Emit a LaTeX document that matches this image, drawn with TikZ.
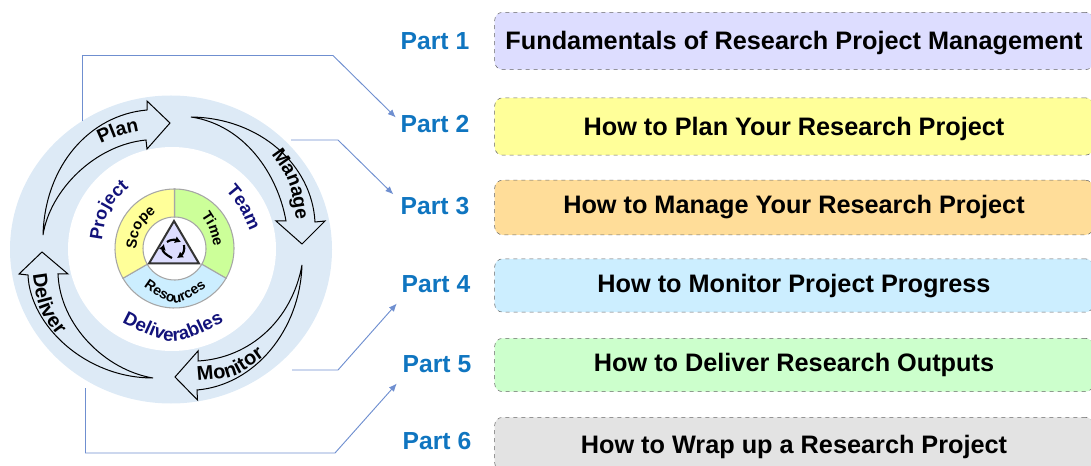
\documentclass[tikz,border=0pt]{standalone}
\usepackage{fontspec}
\setmainfont{Liberation Sans}
\usepackage{tikz}
\usetikzlibrary{decorations.text, arrows.meta}

\definecolor{ringblue}{HTML}{DDEAF6}
\definecolor{linkblue}{HTML}{6F8FD0}
\definecolor{partblue}{HTML}{0F75C0}
\definecolor{wordnavy}{HTML}{12127A}
\definecolor{lilac}{HTML}{DDDDFF}
\definecolor{lemon}{HTML}{FFFF99}
\definecolor{peach}{HTML}{FFDD99}
\definecolor{sky}{HTML}{CCEEFF}
\definecolor{mint}{HTML}{CCFFCC}
\definecolor{lime}{HTML}{CCFF99}
\definecolor{ash}{HTML}{E3E3E3}

\tikzset{curved/.style n args={2}{decorate, decoration={text along path, text align=center, text={|#1|#2}}}}

\begin{document}
\begin{tikzpicture}[x=0.75pt, y=-0.75pt]
\tikzstyle{partlabel}=[text=partblue, font=\fontsize{18.5}{22}\selectfont\bfseries, inner sep=2pt]
\tikzstyle{topicbox}=[draw=black!60, dashed, rounded corners=6pt, minimum width=449pt, inner sep=0pt,
font=\fontsize{18.95}{22}\selectfont\bfseries]
\tikzstyle{link}=[draw=linkblue, line width=0.7pt]
\tikzstyle{stagearrow}=[draw=black, fill=ringblue, line width=0.75pt, line join=miter]
\tikzstyle{sector}=[draw=black!35, line width=0.8pt]
\tikzstyle{spin}=[-{Latex[length=4.5pt, width=5.5pt]}, line width=1.6pt]

\useasboundingbox (0,0) rectangle (1091,466);

% ring
\fill[ringblue] (171,249.5) ellipse [x radius=161, y radius=154];
\fill[white] (172,249) ellipse [x radius=104, y radius=102];

% stage arrows
\draw[stagearrow] (43,235) .. controls (45,165) and (90,115) .. (147,110) -- (147,101) -- (170,123)
  -- (147,149) -- (146,140) .. controls (95,145) and (50,190) .. (43,235) -- cycle;
\draw[stagearrow] (191,117) .. controls (260,118) and (312,165) .. (315,222) -- (325,221) -- (302,244)
  -- (276,221) -- (286,221) .. controls (278,175) and (245,125) .. (191,117) -- cycle;
\draw[stagearrow] (302,265) .. controls (300,330) and (255,385) .. (197,390) -- (197.5,400) -- (175,377)
  -- (198,351) -- (198,361) .. controls (250,358) and (292,320) .. (302,265) -- cycle;
\draw[stagearrow] (153,378) .. controls (85,378) and (30,325) .. (28,275) -- (19,274) -- (42,252)
  -- (68,274) -- (58,274) .. controls (60,325) and (105,370) .. (153,378) -- cycle;

% wheel
\begin{scope}[shift={(174.5,248.5)}]
\draw[sector, fill=lime] (-90:59.5) arc[start angle=-90, end angle=30, radius=59.5]
  -- (30:31.5) arc[start angle=30, end angle=-90, radius=31.5] -- cycle;
\draw[sector, fill=sky] (30:59.5) arc[start angle=30, end angle=150, radius=59.5]
  -- (150:31.5) arc[start angle=150, end angle=30, radius=31.5] -- cycle;
\draw[sector, fill=lemon] (150:59.5) arc[start angle=150, end angle=270, radius=59.5]
  -- (270:31.5) arc[start angle=270, end angle=150, radius=31.5] -- cycle;
\end{scope}

% triangle
\draw[fill=lilac, draw=black!80, line width=1.5pt, line join=miter] (174,221) -- (199,263.5) -- (149,263.5) -- cycle;
\draw[spin] (167,242) .. controls (170,239.5) and (175,239.5) .. (181,242);
\draw[spin] (184,245) .. controls (185,250) and (183,254) .. (177,258);
\draw[spin] (172,258) .. controls (166,255) and (162,251) .. (164,244);

% curved words
\path[curved={\fontsize{14.5}{17}\selectfont\bfseries}{Plan}] (100,144) .. controls (120,135) .. (140,131);
\path[curved={\fontsize{14.5}{17}\selectfont\bfseries}{Manage}] (272,155) .. controls (290,180) .. (296,219);
\path[curved={\fontsize{15}{18}\selectfont\bfseries}{Monitor}] (197,381) .. controls (235,378) .. (265,356);
\path[curved={\fontsize{15}{18}\selectfont\bfseries}{Deliver}] (33,275) .. controls (38,310) .. (57,335);
\path[curved={\fontsize{13.5}{16}\selectfont\bfseries\color{wordnavy}}{Project}] (102,240) .. controls (107,208) .. (129,188);
\path[curved={\fontsize{13.5}{16}\selectfont\bfseries\color{wordnavy}}{Team}] (226,191) .. controls (240,208) .. (250,231);
\path[curved={\fontsize{14}{16}\selectfont\bfseries\color{wordnavy}}{Deliverables}] (120,321) .. controls (173,348) .. (226,321);
\path[curved={\fontsize{11}{13}\selectfont\bfseries}{Scope}] (136,248) .. controls (140,226) .. (155,213);
\path[curved={\fontsize{11}{13}\selectfont\bfseries}{Time}] (201,215) .. controls (210,229) .. (214,247);
\path[curved={\fontsize{10.5}{13}\selectfont\bfseries}{Resources}] (140,284) .. controls (175,309) .. (210,284);

% parts
\node (part1) at (435,41) [partlabel] {Part 1};
\node (part2) at (435,124) [partlabel] {Part 2};
\node (part3) at (435,206) [partlabel] {Part 3};
\node (part4) at (436,284) [partlabel] {Part 4};
\node (part5) at (437,364) [partlabel] {Part 5};
\node (part6) at (437,441) [partlabel] {Part 6};

% boxes
\node (box1) at (794,41) [topicbox, fill=lilac, minimum height=43pt, text height=16.6pt] {Fundamentals of Research Project Management};
\node (box2) at (794,126.5) [topicbox, fill=lemon, minimum height=43pt, text height=18pt] {How to Plan Your Research Project};
\node (box3) at (794,207.5) [topicbox, fill=peach, minimum height=41pt] {How to Manage Your Research Project};
\node (box4) at (794,285.5) [topicbox, fill=sky, minimum height=40pt, text height=15.1pt] {How to Monitor Project Progress};
\node (box5) at (794,365) [topicbox, fill=mint, minimum height=40pt] {How to Deliver Research Outputs};
\node (box6) at (794,444) [topicbox, fill=ash, minimum height=40pt, text height=18pt] {How to Wrap up a Research Project};

% connections
\coordinate (plan1) at (82.5,121);
\coordinate (plan2) at (82.5,55.5);
\coordinate (plan3) at (333,55.5);
\coordinate (manage1) at (291,140);
\coordinate (manage2) at (338,140);
\coordinate (monitor1) at (292,370);
\coordinate (monitor2) at (338,370);
\coordinate (deliver1) at (85.5,388);
\coordinate (deliver2) at (85.5,453);
\coordinate (deliver3) at (335,453);

\draw[link, -{Latex[length=6pt, width=5pt]}] (plan1) -- (plan2) -- (plan3) -- ([xshift=-1.5pt]part2.170);
\draw[link, -{Latex[length=6pt, width=5pt]}] (manage1) -- (manage2) -- ([xshift=-12.5pt]part3.155);
\draw[link, -{Latex[length=6pt, width=5pt]}] (monitor1) -- (monitor2) -- ([shift={(-2,8)}]part4.south west);
\draw[link, -{Latex[length=6pt, width=5pt]}] (deliver1) -- (deliver2) -- (deliver3) -- ([shift={(-3,8)}]part5.south west);
\end{tikzpicture}
\end{document}
